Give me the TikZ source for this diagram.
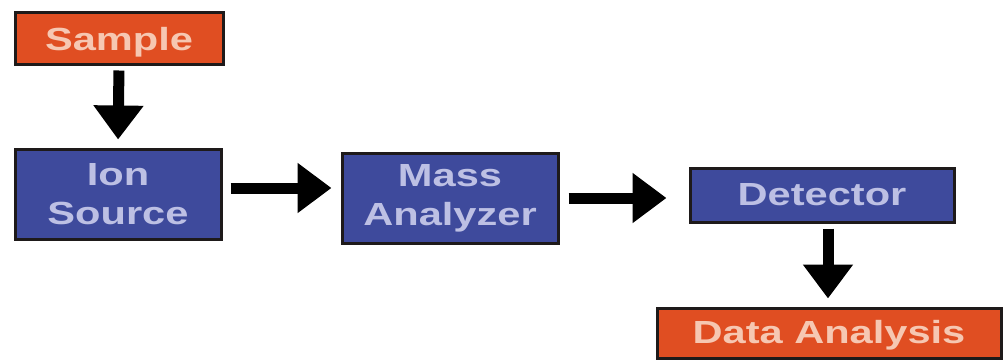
\documentclass[tikz,border=0pt]{standalone}
\usepackage{fontspec}
\usetikzlibrary{arrows.meta}
\newfontfamily\boxfont{Liberation Sans}[FakeStretch=1.3]
\definecolor{stageorange}{HTML}{E04E22}
\definecolor{stageblue}{HTML}{3E4A9C}
\definecolor{textpeach}{HTML}{F6C7B2}
\definecolor{textlilac}{HTML}{BDC0E4}
\definecolor{edge}{HTML}{1E1A1A}
\tikzset{
  stagebox/.style={draw=edge, line width=3pt, inner sep=0pt, align=center,
    font=\boxfont\bfseries\fontsize{32}{39}\selectfont},
  endbox/.style={stagebox, fill=stageorange, text=textpeach, text depth=7pt},
  midbox/.style={stagebox, fill=stageblue, text=textlilac},
  flow/.style={line width=11pt, -{Triangle[length=34pt,width=48pt]}}
}
\begin{document}
\begin{tikzpicture}[x=1pt,y=-1pt]
  \useasboundingbox (0,0) rectangle (1004,359);
  % process stages
  \node[endbox, text height=31pt, minimum width=208pt, minimum height=52pt] (sample) at (119,38) {Sample};
  \node[midbox, minimum width=206pt, minimum height=90pt] (ion) at (118,194) {Ion\\Source};
  \node[midbox, minimum width=216pt, minimum height=90pt] (mass) at (450,198) {Mass\\Analyzer};
  \node[midbox, minimum width=264pt, minimum height=54pt] (det) at (822,195) {Detector};
  \node[endbox, text height=27pt, minimum width=344pt, minimum height=50pt] (data) at (829,333) {Data Analysis};
  % flow arrows
  \draw[flow, shorten <=5pt, shorten >=8pt] (sample.south) -- (ion.north);
  \draw[flow, shorten <=8pt, shorten >=9pt] ([yshift=6pt]ion.east) -- ([yshift=6pt]ion.east -| mass.west);
  \draw[flow, shorten <=9pt, shorten >=22pt] (mass.east) -- (mass.east -| det.west);
  \coordinate (dtop) at ([xshift=6pt]det.south);
  \draw[flow, shorten <=5pt, shorten >=8pt] (dtop) -- (dtop |- data.north);
\end{tikzpicture}
\end{document}
